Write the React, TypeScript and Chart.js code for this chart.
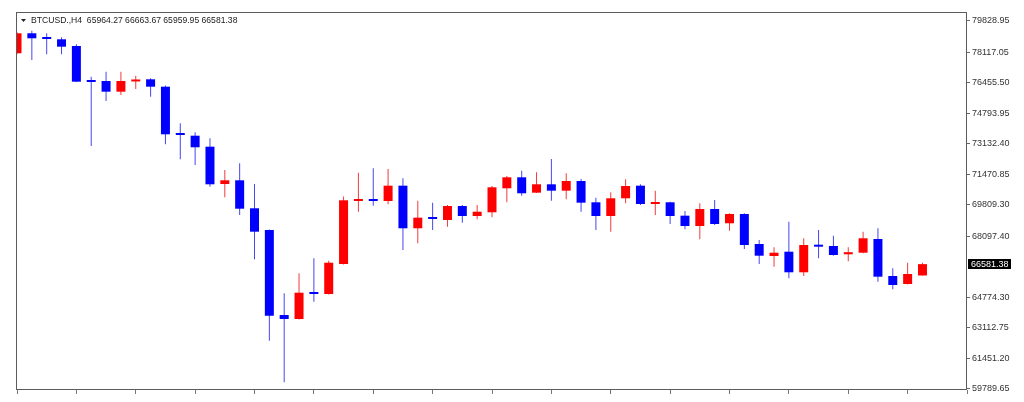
import { useEffect, useRef } from 'react';
import { Chart, registerables } from 'chart.js';

Chart.register(...registerables);

// ---- data (BTCUSD H4 candles) ----
const symbolLabel = 'BTCUSD.,H4';

const opens = [
  78052, 79140, 78868, 78813, 78449, 76545, 76545, 75963, 76518, 76637,
  76235, 73645, 73569, 72971, 70942, 71143, 69620, 68439, 63815, 63598,
  65050, 64958, 66590, 70017, 70082, 70017, 70850, 68532, 69109, 68984,
  69745, 69201, 69402, 70708, 71306, 70469, 70925, 70578, 71105, 69946,
  69201, 70164, 70850, 69854, 69946, 69218, 68657, 69582, 68804, 69310,
  67678, 67025, 67259, 66138, 67623, 67569, 67117, 67204, 67950, 65937,
  65502, 65964.27,
];
const highs = [
  79200, 79281, 79140, 78922, 78541, 76779, 77051, 77051, 76834, 76692,
  76300, 74244, 73754, 73428, 71703, 72068, 70942, 68467, 64996, 66084,
  66900, 66769, 70262, 71557, 71796, 71758, 71252, 70034, 69925, 69800,
  69800, 69800, 70833, 71377, 71666, 71578, 72302, 71524, 71214, 70197,
  70490, 71198, 70925, 70578, 69979, 69473, 69892, 70072, 69346, 69346,
  67895, 67498, 68891, 67988, 68439, 68130, 67498, 68347, 68532, 66356,
  66660, 66663.67,
];
const lows = [
  78000, 77687, 77997, 77997, 76490, 73009, 75457, 75783, 76110, 75691,
  73101, 72285, 71975, 70795, 70218, 69255, 66845, 62417, 60154, 63570,
  64539, 64930, 66562, 69435, 69762, 69838, 67352, 67716, 68439, 68619,
  68837, 69022, 69130, 69946, 70306, 70447, 70034, 70109, 69435, 68439,
  68347, 69892, 69800, 69255, 68766, 68478, 67934, 68711, 68401, 67406,
  66590, 66443, 65812, 65937, 66900, 67041, 66737, 67172, 65627, 65214,
  65475, 65959.95,
];
const closes = [
  79140, 78868, 78830, 78411, 76507, 76490, 75963, 76545, 76627, 76235,
  73645, 73607, 72938, 70925, 71143, 69598, 68347, 63777, 63598, 65028,
  64958, 66660, 70055, 70082, 70017, 70850, 68532, 69109, 69038, 69745,
  69201, 69435, 70762, 71306, 70436, 70925, 70578, 71105, 69925, 69201,
  70164, 70833, 69854, 69963, 69201, 68657, 69582, 68766, 69310, 67623,
  67041, 67204, 66138, 67623, 67531, 67080, 67232, 67988, 65899, 65448,
  66046, 66581.38,
];
const candleIndex = opens.map((_, i) => i);

const yTickLabels = [
  '79828.95', '78117.05', '76455.50', '74793.95', '73132.40', '71470.85',
  '69809.30', '68097.40', '64774.30', '63112.75', '61451.20', '59789.65',
];

const UP_BODY = '#ff0000';
const DOWN_BODY = '#0000ff';
const UP_WICK = '#f03c3c';
const DOWN_WICK = '#4646f0';

const isUp = (i: number) => closes[i] >= opens[i];

const overlayPlugin = {
  id: 'mt4Overlay',
  afterDraw(chart: any) {
    const { ctx, chartArea: a, scales } = chart;
    ctx.save();
    // frame
    ctx.strokeStyle = '#5c5c5c';
    ctx.lineWidth = 1;
    ctx.strokeRect(a.left - 0.5, a.top + 0.5, a.right - a.left, a.bottom - a.top - 1);

    // header
    ctx.fillStyle = '#222';
    ctx.beginPath();
    ctx.moveTo(a.left + 4, a.top + 7);
    ctx.lineTo(a.left + 9, a.top + 7);
    ctx.lineTo(a.left + 6.5, a.top + 10);
    ctx.closePath();
    ctx.fill();
    ctx.font = '8.6px "Liberation Sans", Arial, sans-serif';
    ctx.textBaseline = 'alphabetic';
    ctx.textAlign = 'left';
    const last = opens.length - 1;
    const header =
      symbolLabel + '  ' +
      opens[last].toFixed(2) + ' ' + highs[last].toFixed(2) + ' ' +
      lows[last].toFixed(2) + ' ' + closes[last].toFixed(2);
    ctx.fillText(header, a.left + 14, a.top + 11);

    // current price box
    const py = scales.y.getPixelForValue(closes[last]);
    ctx.fillStyle = '#000';
    ctx.fillRect(a.right + 1, Math.round(py) - 5, 43, 10);
    ctx.fillStyle = '#fff';
    ctx.font = '9px "Liberation Sans", Arial, sans-serif';
    ctx.textBaseline = 'middle';
    ctx.fillText(closes[last].toFixed(2), a.right + 4, Math.round(py) + 0.5);
    ctx.restore();
  },
};

export default function App() {
  const ref = useRef<HTMLCanvasElement | null>(null);

  useEffect(() => {
    if (!ref.current) return;
    const chart = new Chart(ref.current, {
      type: 'bar',
      data: {
        datasets: [
          {
            label: 'body',
            order: 0,
            data: candleIndex.map((i) => ({ x: i, y: [opens[i], closes[i]] })) as any,
            backgroundColor: candleIndex.map((i) => (isUp(i) ? UP_BODY : DOWN_BODY)),
            borderWidth: 0,
            barThickness: 9,
            minBarLength: 2,
            inflateAmount: 0,
            grouped: false,
            clip: 0,
          } as any,
          {
            label: 'wick',
            order: 1,
            data: candleIndex.map((i) => ({ x: i, y: [lows[i], highs[i]] })) as any,
            backgroundColor: candleIndex.map((i) => (isUp(i) ? UP_WICK : DOWN_WICK)),
            borderWidth: 0,
            barThickness: 1,
            inflateAmount: 0,
            grouped: false,
            clip: 0,
          } as any,
        ],
      },
      options: {
        animation: false,
        responsive: false,
        maintainAspectRatio: false,
        layout: { padding: { left: 17, top: 12, right: 0, bottom: 0 } },
        plugins: { legend: { display: false }, tooltip: { enabled: false } },
        scales: {
          x: {
            type: 'linear',
            min: 0,
            max: 64,
            offset: false,
            border: { display: false },
            grid: {
              offset: false,
              drawOnChartArea: false,
              drawTicks: true,
              tickLength: 4,
              color: '#777',
            },
            ticks: { stepSize: 4, display: false },
            afterFit: (s: any) => {
              s.height = 12;
            },
          },
          y: {
            type: 'linear',
            position: 'right',
            min: 59735,
            max: 80298,
            border: { display: false },
            grid: {
              offset: false,
              drawOnChartArea: false,
              drawTicks: true,
              tickLength: 3,
              color: '#666',
            },
            afterBuildTicks: (s: any) => {
              s.ticks = yTickLabels.map((t) => ({ value: parseFloat(t) }));
            },
            ticks: {
              autoSkip: false,
              padding: 2,
              color: '#333',
              font: { family: '"Liberation Sans", Arial, sans-serif', size: 9 },
              callback: (v: any) => {
                const found = yTickLabels.find((t) => Math.abs(parseFloat(t) - v) < 0.001);
                return found ?? Number(v).toFixed(2);
              },
            },
            afterFit: (s: any) => {
              s.width = 57;
            },
          },
        },
      } as any,
      plugins: [overlayPlugin],
    });
    return () => chart.destroy();
  }, []);

  return (
    <div
      style={{
        position: 'fixed',
        left: 0,
        top: 0,
        width: 1024,
        height: 402,
        background: '#fff',
      }}
    >
      <canvas ref={ref} width={1024} height={402} style={{ width: 1024, height: 402 }} />
    </div>
  );
}
